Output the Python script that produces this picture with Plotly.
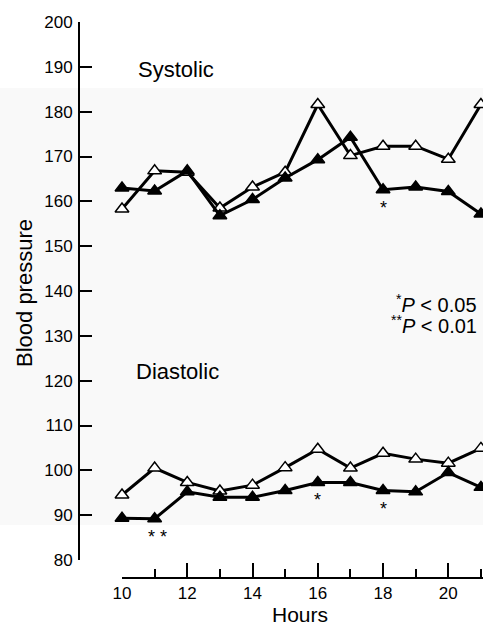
import plotly.graph_objects as go

# ---- data ----
hours = [10, 11, 12, 13, 14, 15, 16, 17, 18, 19, 20, 21]
systolic_open = [158.3, 166.8, 166.5, 158.5, 163.2, 166.5, 181.6, 170.2, 172.3, 172.3, 169.4, 181.6]
systolic_filled = [163.0, 162.3, 166.8, 156.8, 160.4, 165.2, 169.3, 174.3, 162.6, 163.2, 162.2, 157.2]
diastolic_open = [94.5, 100.5, 97.3, 95.4, 96.7, 100.6, 104.7, 100.5, 103.8, 102.5, 101.6, 104.9]
diastolic_filled = [89.3, 89.2, 95.2, 94.0, 94.0, 95.5, 97.3, 97.3, 95.5, 95.2, 99.5, 96.2]

# significance marks (hour, label)
sig_systolic_hours = [18]
sig_systolic_labels = ["*"]
sig_diastolic_hours = [11, 16, 18]
sig_diastolic_labels = ["* *", "*", "*"]

y_ticks = [80, 90, 100, 110, 120, 130, 140, 150, 160, 170, 180, 190, 200]
x_ticks = [10, 12, 14, 16, 18, 20]

FONT = "Liberation Sans, Arial, Helvetica, sans-serif"

W, H = 483, 624
L, R, T, B = 79, 0, 22, 46
PW, PH = W - L - R, H - T - B


def px(xp):
    return (xp - L) / PW


def py(yp):
    return (H - B - yp) / PH


fig = go.Figure()


def add_series(yvals, filled):
    fig.add_trace(go.Scatter(
        x=hours, y=yvals, mode="lines+markers",
        line=dict(color="black", width=3),
        marker=dict(symbol="triangle-up", size=12,
                    color="black" if filled else "white",
                    line=dict(color="black", width=1.5)),
        cliponaxis=False, showlegend=False, hoverinfo="skip"))


add_series(systolic_open, False)
add_series(systolic_filled, True)
add_series(diastolic_open, False)
add_series(diastolic_filled, True)

annotations = []
for h, lab in zip(sig_systolic_hours, sig_systolic_labels):
    annotations.append(dict(x=h, y=systolic_filled[hours.index(h)], xref="x", yref="y",
                            text=lab, showarrow=False, yshift=-18,
                            xanchor="center", yanchor="middle",
                            font=dict(family=FONT, size=18, color="black")))
for h, lab in zip(sig_diastolic_hours, sig_diastolic_labels):
    annotations.append(dict(x=h, y=diastolic_filled[hours.index(h)], xref="x", yref="y",
                            text=lab, showarrow=False, yshift=-18,
                            xshift=3 if lab == "* *" else 0,
                            xanchor="center", yanchor="middle",
                            font=dict(family=FONT, size=18, color="black")))


def label(x, y, text, size, xanchor="center", angle=0):
    return dict(x=px(x), y=py(y), xref="paper", yref="paper", text=text,
                showarrow=False, xanchor=xanchor, yanchor="middle", textangle=angle,
                font=dict(family=FONT, size=size, color="black"))


annotations += [
    label(176, 69, "Systolic", 22),
    label(134, 371, "Diastolic", 22, xanchor="left"),
    label(479, 303, "<sup>*</sup><i>P</i> &lt; 0.05", 20, xanchor="right"),
    label(479, 325, "<sup>**</sup><i>P</i> &lt; 0.01", 20, xanchor="right"),
    label(300, 614, "Hours", 21),
    label(24, 293, "Blood pressure", 22, angle=-90),
]

shapes = [dict(type="rect", xref="paper", yref="paper", x0=px(0), x1=px(W),
               y0=py(525), y1=py(88), fillcolor="#f9f9f9", line=dict(width=0),
               layer="below")]

fig.update_layout(
    width=W, height=H,
    margin=dict(l=L, r=R, t=T, b=B, pad=0),
    paper_bgcolor="white", plot_bgcolor="rgba(0,0,0,0)",
    font=dict(family=FONT, color="black"),
    annotations=annotations, shapes=shapes,
    xaxis=dict(domain=[px(122), 1], range=[10, 10 + (W - 122) / 32.63],
               anchor="free", position=0,
               tickmode="array", tickvals=x_ticks, ticktext=[str(v) for v in x_ticks],
               ticks="inside", ticklen=14, tickwidth=2, tickcolor="black",
               minor=dict(tickmode="array", tickvals=hours, ticks="inside",
                          ticklen=8, tickwidth=2, tickcolor="black"),
               showline=True, linewidth=2, linecolor="black",
               showgrid=False, zeroline=False,
               tickfont=dict(family=FONT, size=17, color="black")),
    yaxis=dict(domain=[py(560), 1], range=[80, 200],
               anchor="free", position=0,
               tickmode="array", tickvals=y_ticks, ticktext=[str(v) for v in y_ticks],
               ticks="inside", ticklen=12, tickwidth=2, tickcolor="black",
               showline=True, linewidth=2, linecolor="black",
               showgrid=False, zeroline=False, ticklabelstandoff=2,
               tickfont=dict(family=FONT, size=17, color="black")),
)

fig.write_html(
    "out.html",
    config={"displayModeBar": False},
    post_script="document.body.style.margin='0';document.body.style.overflow='hidden';",
)
